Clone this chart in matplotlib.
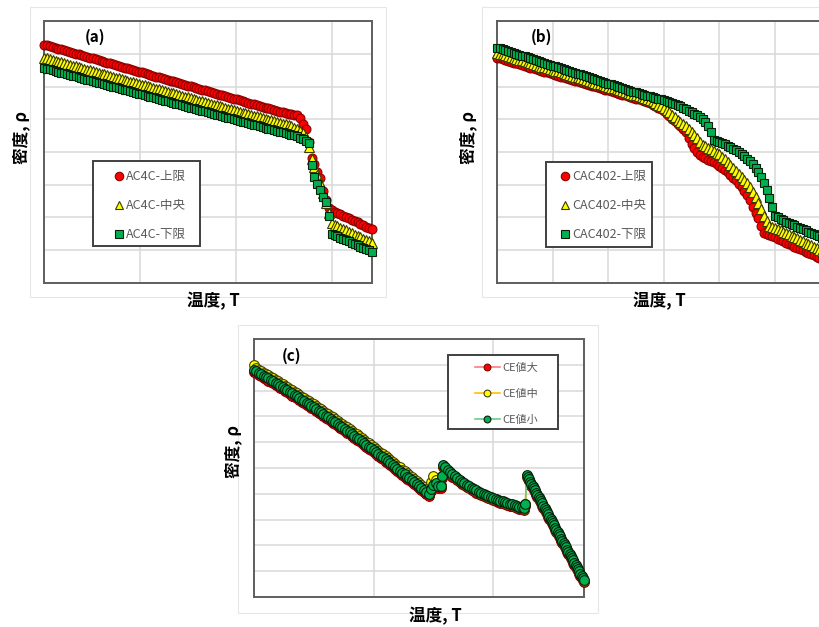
import numpy as np
import matplotlib
matplotlib.use('Agg')
import matplotlib.pyplot as plt
from matplotlib.patches import Rectangle

plt.rcParams['font.family'] = ['Noto Sans CJK JP', 'DejaVu Sans']

# ---------------- data ----------------
# panel (a): AC4C  (temperature sampled every 3 units)
T_a = list(range(0, 343, 3))
rho_a_upper = [
    7.28, 7.255, 7.23, 7.205, 7.18, 7.155, 7.13, 7.105, 7.08, 7.055, 7.03, 7.005, 6.98, 6.955,
    6.93, 6.905, 6.88, 6.855, 6.83, 6.805, 6.78, 6.755, 6.73, 6.705, 6.68, 6.655, 6.63, 6.605,
    6.58, 6.555, 6.53, 6.505, 6.48, 6.455, 6.43, 6.405, 6.38, 6.355, 6.33, 6.305, 6.28, 6.255,
    6.23, 6.205, 6.18, 6.155, 6.13, 6.105, 6.08, 6.055, 6.03, 6.005, 5.98, 5.955, 5.93, 5.905,
    5.88, 5.855, 5.83, 5.805, 5.78, 5.755, 5.73, 5.705, 5.68, 5.655, 5.63, 5.605, 5.58, 5.555,
    5.53, 5.505, 5.48, 5.455, 5.43, 5.405, 5.38, 5.355, 5.33, 5.305, 5.28, 5.255, 5.23,
    5.21, 5.19, 5.175, 5.16, 5.145, 5.13,
    5.05, 4.85, 4.70, 4.30, 3.82, 3.62, 3.40, 3.20, 2.80, 2.52, 2.28, 2.22,
    2.18, 2.14, 2.10, 2.06, 2.01, 1.97, 1.93, 1.89, 1.85, 1.81, 1.77, 1.72, 1.68, 1.64]
rho_a_mid = [
    6.880, 6.856, 6.831, 6.807, 6.783, 6.759, 6.734, 6.710, 6.686, 6.662, 6.637, 6.613, 6.589,
    6.564, 6.540, 6.516, 6.492, 6.467, 6.443, 6.419, 6.395, 6.370, 6.346, 6.322, 6.298, 6.273,
    6.249, 6.225, 6.200, 6.176, 6.152, 6.128, 6.103, 6.079, 6.055, 6.031, 6.006, 5.982, 5.958,
    5.934, 5.909, 5.885, 5.861, 5.836, 5.812, 5.788, 5.764, 5.739, 5.715, 5.691, 5.667, 5.642,
    5.618, 5.594, 5.569, 5.545, 5.521, 5.497, 5.472, 5.448, 5.424, 5.400, 5.375, 5.351, 5.327,
    5.302, 5.278, 5.254, 5.230, 5.205, 5.181, 5.157, 5.133, 5.108, 5.084, 5.060, 5.035, 5.011,
    4.987, 4.963, 4.938, 4.914, 4.890,
    4.865, 4.84, 4.81, 4.78, 4.74, 4.70,
    4.64, 4.58, 4.45, 4.15, 3.80, 3.55, 3.30, 3.05, 2.75, 2.45, 2.15, 1.82,
    1.78, 1.74, 1.69, 1.65, 1.61, 1.57, 1.52, 1.48, 1.44, 1.40, 1.35, 1.31, 1.27, 1.23]
rho_a_lower = [
    6.570, 6.546, 6.522, 6.499, 6.475, 6.451, 6.427, 6.403, 6.380, 6.356, 6.332, 6.308, 6.285,
    6.261, 6.237, 6.213, 6.189, 6.166, 6.142, 6.118, 6.094, 6.070, 6.047, 6.023, 5.999, 5.975,
    5.951, 5.928, 5.904, 5.880, 5.856, 5.833, 5.809, 5.785, 5.761, 5.737, 5.714, 5.690, 5.666,
    5.642, 5.618, 5.595, 5.571, 5.547, 5.523, 5.499, 5.476, 5.452, 5.428, 5.404, 5.381, 5.357,
    5.333, 5.309, 5.285, 5.262, 5.238, 5.214, 5.190, 5.166, 5.143, 5.119, 5.095, 5.071, 5.047,
    5.024, 5.000, 4.976, 4.952, 4.928, 4.905, 4.881, 4.857, 4.833, 4.810, 4.786, 4.762, 4.738,
    4.714, 4.691, 4.667, 4.643, 4.619,
    4.60, 4.58, 4.555, 4.53, 4.505, 4.48,
    4.43, 4.40, 4.35, 4.28, 3.60, 3.25, 3.02, 2.84, 2.63, 2.47, 2.05, 1.50,
    1.46, 1.42, 1.38, 1.35, 1.31, 1.27, 1.23, 1.19, 1.15, 1.11, 1.08, 1.04, 1.00, 0.96]
labels_a = ['AC4C-上限', 'AC4C-中央', 'AC4C-下限']

# panel (b): CAC402  (temperature sampled every 5 units)
T_b = list(range(0, 591, 5))
rho_b_upper = [
    6.88, 6.855, 6.83, 6.805, 6.78, 6.755, 6.73, 6.705, 6.68, 6.655, 6.63, 6.605, 6.58, 6.555,
    6.53, 6.505, 6.48, 6.455, 6.43, 6.405, 6.38, 6.355, 6.33, 6.305, 6.28, 6.255, 6.23, 6.205,
    6.18, 6.155, 6.13, 6.105, 6.08, 6.055, 6.03, 6.005, 5.98, 5.955, 5.93, 5.905, 5.88, 5.855,
    5.83, 5.805, 5.78, 5.755, 5.73, 5.705, 5.68, 5.655, 5.63, 5.605, 5.58, 5.55, 5.52, 5.49,
    5.45, 5.40, 5.35, 5.30, 5.24, 5.17, 5.10, 5.02, 4.94, 4.86, 4.78, 4.70, 4.62, 4.44, 4.25,
    4.12, 4.00, 3.92, 3.86, 3.81, 3.77, 3.73, 3.69, 3.64, 3.58, 3.52, 3.45, 3.38, 3.30, 3.22,
    3.13, 3.03, 2.92, 2.80, 2.68, 2.52, 2.33, 2.15, 1.97, 1.75, 1.52, 1.49, 1.46, 1.42, 1.39,
    1.35, 1.31, 1.27, 1.23, 1.19, 1.15, 1.11, 1.07, 1.04, 1.00, 0.96, 0.92, 0.88, 0.84, 0.80,
    0.76, 0.72, 0.68]
rho_b_mid = [
    7.03, 7.005, 6.98, 6.955, 6.93, 6.90, 6.87, 6.845, 6.82, 6.795, 6.77, 6.745, 6.72, 6.695,
    6.67, 6.64, 6.61, 6.585, 6.56, 6.535, 6.51, 6.485, 6.46, 6.43, 6.40, 6.375, 6.35, 6.325,
    6.30, 6.275, 6.25, 6.225, 6.20, 6.17, 6.14, 6.115, 6.09, 6.065, 6.04, 6.015, 5.99, 5.965,
    5.94, 5.91, 5.88, 5.855, 5.83, 5.805, 5.78, 5.755, 5.73, 5.705, 5.68, 5.65, 5.62, 5.59,
    5.55, 5.50, 5.45, 5.40, 5.35, 5.29, 5.22, 5.14, 5.06, 4.99, 4.92, 4.85, 4.78, 4.70, 4.62,
    4.52, 4.42, 4.32, 4.22, 4.17, 4.12, 4.08, 4.03, 3.98, 3.93, 3.86, 3.78, 3.69, 3.60, 3.50,
    3.41, 3.33, 3.24, 3.15, 3.05, 2.92, 2.78, 2.62, 2.45, 2.25, 2.05, 1.88, 1.74, 1.70, 1.67,
    1.64, 1.61, 1.57, 1.53, 1.49, 1.44, 1.40, 1.36, 1.32, 1.27, 1.23, 1.19, 1.15, 1.10, 1.06,
    1.02, 0.98, 0.93]
rho_b_lower = [
    7.19, 7.165, 7.14, 7.11, 7.08, 7.055, 7.03, 7.00, 6.97, 6.945, 6.92, 6.89, 6.86, 6.835,
    6.81, 6.78, 6.75, 6.725, 6.70, 6.67, 6.64, 6.615, 6.59, 6.56, 6.53, 6.505, 6.48, 6.45,
    6.42, 6.395, 6.37, 6.34, 6.31, 6.285, 6.26, 6.23, 6.20, 6.175, 6.15, 6.12, 6.09, 6.065,
    6.04, 6.01, 5.98, 5.955, 5.93, 5.90, 5.87, 5.845, 5.82, 5.795, 5.77, 5.745, 5.72, 5.70,
    5.68, 5.655, 5.63, 5.61, 5.59, 5.565, 5.54, 5.51, 5.48, 5.44, 5.40, 5.355, 5.31, 5.265,
    5.22, 5.175, 5.13, 5.07, 5.01, 4.92, 4.80, 4.60, 4.37, 4.34, 4.31, 4.27, 4.23, 4.185, 4.14,
    4.095, 4.05, 4.00, 3.95, 3.88, 3.80, 3.71, 3.62, 3.51, 3.40, 3.23, 3.05, 2.83, 2.60, 2.33,
    2.05, 2.00, 1.95, 1.91, 1.87, 1.835, 1.80, 1.76, 1.72, 1.685, 1.65, 1.61, 1.57, 1.535,
    1.50, 1.46, 1.42, 1.385, 1.35]
labels_b = ['CAC402-上限', 'CAC402-中央', 'CAC402-下限']

# panel (c): CE value
T_c = (list(range(0, 145, 2)) + [146, 148, 150, 152, 154, 156, 157]
       + list(range(158, 227, 2)) + [227] + list(range(228, 277)))
rho_c_small = [
    8.80, 8.75, 8.69, 8.64, 8.58, 8.53, 8.47, 8.41, 8.36, 8.30, 8.24, 8.19, 8.13, 8.07, 8.01,
    7.95, 7.89, 7.84, 7.78, 7.72, 7.65, 7.59, 7.53, 7.47, 7.41, 7.35, 7.29, 7.22, 7.16, 7.10,
    7.03, 6.97, 6.90, 6.84, 6.77, 6.71, 6.64, 6.58, 6.51, 6.45, 6.38, 6.31, 6.24, 6.18, 6.11,
    6.04, 5.97, 5.90, 5.83, 5.76, 5.69, 5.62, 5.55, 5.48, 5.41, 5.33, 5.26, 5.19, 5.12, 5.04,
    4.97, 4.90, 4.82, 4.75, 4.67, 4.60, 4.52, 4.45, 4.37, 4.29, 4.22, 4.14, 4.06,
    4.00, 4.18, 4.35, 4.42, 4.32, 4.30, 4.70,
    5.12, 5.02, 4.92, 4.835, 4.75, 4.675, 4.60, 4.535, 4.47, 4.41, 4.35, 4.295, 4.24, 4.185,
    4.13, 4.085, 4.04, 4.00, 3.96, 3.92, 3.88, 3.845, 3.81, 3.775, 3.74, 3.71, 3.68, 3.65,
    3.62, 3.59, 3.56, 3.53, 3.50, 3.475, 3.45,
    3.62,
    4.73, 4.645, 4.56, 4.475, 4.39, 4.305, 4.22, 4.135, 4.05, 3.965, 3.88, 3.795, 3.71, 3.625,
    3.54, 3.455, 3.37, 3.285, 3.20, 3.115, 3.03, 2.945, 2.86, 2.775, 2.69, 2.605, 2.52, 2.435,
    2.35, 2.265, 2.18, 2.095, 2.01, 1.925, 1.84, 1.755, 1.67, 1.585, 1.50, 1.415, 1.33, 1.245,
    1.16, 1.075, 0.99, 0.905, 0.82, 0.735, 0.65]
rho_c_mid = [
    8.99, 8.87, 8.81, 8.76, 8.70, 8.65, 8.59, 8.53, 8.48, 8.42, 8.36, 8.31, 8.25, 8.19, 8.13,
    8.07, 8.01, 7.96, 7.90, 7.84, 7.77, 7.71, 7.65, 7.59, 7.53, 7.47, 7.41, 7.34, 7.28, 7.22,
    7.15, 7.09, 7.02, 6.96, 6.89, 6.83, 6.76, 6.70, 6.63, 6.57, 6.50, 6.43, 6.36, 6.30, 6.23,
    6.16, 6.09, 6.02, 5.95, 5.88, 5.81, 5.74, 5.67, 5.60, 5.53, 5.45, 5.38, 5.31, 5.24, 5.16,
    5.09, 5.02, 4.94, 4.87, 4.79, 4.72, 4.64, 4.57, 4.49, 4.41, 4.34, 4.26, 4.18,
    4.10, 4.45, 4.70, 4.55, 4.38, 4.35, 4.70,
    5.09, 4.99, 4.89, 4.805, 4.72, 4.645, 4.57, 4.505, 4.44, 4.38, 4.32, 4.265, 4.21, 4.155,
    4.10, 4.055, 4.01, 3.97, 3.93, 3.89, 3.85, 3.815, 3.78, 3.745, 3.71, 3.68, 3.65, 3.62,
    3.59, 3.56, 3.53, 3.50, 3.47, 3.445, 3.42,
    3.60,
    4.70, 4.615, 4.53, 4.445, 4.36, 4.275, 4.19, 4.105, 4.02, 3.935, 3.85, 3.765, 3.68, 3.595,
    3.51, 3.425, 3.34, 3.255, 3.17, 3.085, 3.00, 2.915, 2.83, 2.745, 2.66, 2.575, 2.49, 2.405,
    2.32, 2.235, 2.15, 2.065, 1.98, 1.895, 1.81, 1.725, 1.64, 1.555, 1.47, 1.385, 1.30, 1.215,
    1.13, 1.045, 0.96, 0.875, 0.79, 0.705, 0.62]
rho_c_large = [
    8.72, 8.67, 8.61, 8.56, 8.50, 8.45, 8.39, 8.33, 8.28, 8.22, 8.16, 8.11, 8.05, 7.99, 7.93,
    7.87, 7.81, 7.76, 7.70, 7.64, 7.57, 7.51, 7.45, 7.39, 7.33, 7.27, 7.21, 7.14, 7.08, 7.02,
    6.95, 6.89, 6.82, 6.76, 6.69, 6.63, 6.56, 6.50, 6.43, 6.37, 6.30, 6.23, 6.16, 6.10, 6.03,
    5.96, 5.89, 5.82, 5.75, 5.68, 5.61, 5.54, 5.47, 5.40, 5.33, 5.25, 5.18, 5.11, 5.04, 4.96,
    4.89, 4.82, 4.74, 4.67, 4.59, 4.52, 4.44, 4.37, 4.29, 4.21, 4.14, 4.06, 3.98,
    3.92, 4.10, 4.27, 4.34, 4.24, 4.22, 4.60,
    5.04, 4.94, 4.84, 4.755, 4.67, 4.595, 4.52, 4.455, 4.39, 4.33, 4.27, 4.215, 4.16, 4.105,
    4.05, 4.005, 3.96, 3.92, 3.88, 3.84, 3.80, 3.765, 3.73, 3.695, 3.66, 3.63, 3.60, 3.57,
    3.54, 3.51, 3.48, 3.45, 3.42, 3.395, 3.37,
    3.54,
    4.65, 4.565, 4.48, 4.395, 4.31, 4.225, 4.14, 4.055, 3.97, 3.885, 3.80, 3.715, 3.63, 3.545,
    3.46, 3.375, 3.29, 3.205, 3.12, 3.035, 2.95, 2.865, 2.78, 2.695, 2.61, 2.525, 2.44, 2.355,
    2.27, 2.185, 2.10, 2.015, 1.93, 1.845, 1.76, 1.675, 1.59, 1.505, 1.42, 1.335, 1.25, 1.165,
    1.08, 0.995, 0.91, 0.825, 0.74, 0.655, 0.57]
labels_c = ['CE値大', 'CE値中', 'CE値小']

xlabel = '温度, T'
ylabel = '密度, ρ'

# ---------------- figure ----------------
W, H = 820, 627
fig = plt.figure(figsize=(8.2, 6.27), dpi=100)
fig.patch.set_facecolor('white')


def fx(px):
    return px / W


def fy(py):
    return 1 - py / H


def add_axes(l, t, r, b):
    return fig.add_axes([fx(l), fy(b), (r - l) / W, (b - t) / H])


def outer_box(l, t, r, b):
    fig.add_artist(Rectangle((fx(l), fy(b)), (r - l) / W, (b - t) / H,
                             transform=fig.transFigure, fill=False,
                             ec='#E6E6E6', lw=0.8, zorder=0))


def style(ax, xmax, ymax, xstep, ystep):
    ax.set_xlim(0, xmax)
    ax.set_ylim(0, ymax)
    ax.set_xticks(np.arange(0, xmax + 1e-9, xstep))
    ax.set_yticks(np.arange(0, ymax + 1e-9, ystep))
    ax.tick_params(length=0, labelbottom=False, labelleft=False)
    ax.grid(True, color='#D9D9D9', lw=1.1)
    ax.set_axisbelow(True)
    for s in ax.spines.values():
        s.set_color('#5E5E5E')
        s.set_linewidth(1.4)


def legend_box(ax, l, t, r, b):
    ax.add_patch(Rectangle((fx(l), fy(b)), (r - l) / W, (b - t) / H,
                           transform=fig.transFigure, fc='white', ec='#404040',
                           lw=1.4, zorder=4, clip_on=False))


RED, RED_E = '#FF0000', '#8A0000'
YEL, YEL_E = '#FFFF00', '#3A3A00'
GRN, GRN_E = '#00B050', '#08200C'

# outer chart-area frames
outer_box(30, 7, 386, 297)
outer_box(482, 7, 840, 297)
outer_box(238, 325, 598, 613)

# ---- panel (a)
axa = add_axes(44, 21, 372, 283)
style(axa, 342, 8, 100, 1)
ha = []
ha.append(axa.plot(T_a, rho_a_upper, ls='none', marker='o', ms=6.4, mfc=RED, mec=RED_E,
                   mew=0.8, clip_on=False, zorder=3)[0])
ha.append(axa.plot(T_a, rho_a_mid, ls='none', marker='^', ms=6.6, mfc=YEL, mec=YEL_E,
                   mew=0.8, clip_on=False, zorder=3)[0])
ha.append(axa.plot(T_a, rho_a_lower, ls='none', marker='s', ms=6.0, mfc=GRN, mec=GRN_E,
                   mew=0.8, clip_on=False, zorder=3)[0])
legend_box(axa, 93, 161, 200, 246)
axa.legend(ha, labels_a, loc='upper left', bbox_to_anchor=(fx(113), fy(170)),
           bbox_transform=fig.transFigure, frameon=False, fontsize=9,
           labelcolor='#595959', handlelength=0.9, handletextpad=0.15,
           labelspacing=1.3, borderpad=0, borderaxespad=0, numpoints=1,
           markerscale=0.95)
fig.text(fx(95), fy(37), '(a)', fontsize=11, fontweight='bold', ha='center', va='center')
fig.text(fx(213), fy(301), xlabel, fontsize=12, fontweight='bold', ha='center', va='center')
fig.text(fx(21), fy(137), ylabel, fontsize=12, fontweight='bold', ha='center', va='center',
         rotation=90)

# ---- panel (b)
axb = add_axes(497, 21, 825, 283)
style(axb, 590, 8, 100, 1)
hb = []
hb.append(axb.plot(T_b, rho_b_upper, ls='none', marker='o', ms=6.4, mfc=RED, mec=RED_E,
                   mew=0.8, clip_on=False, zorder=3)[0])
hb.append(axb.plot(T_b, rho_b_mid, ls='none', marker='^', ms=6.6, mfc=YEL, mec=YEL_E,
                   mew=0.8, clip_on=False, zorder=3)[0])
hb.append(axb.plot(T_b, rho_b_lower, ls='none', marker='s', ms=6.0, mfc=GRN, mec=GRN_E,
                   mew=0.8, clip_on=False, zorder=3)[0])
legend_box(axb, 546, 162, 652, 247)
axb.legend(hb, labels_b, loc='upper left', bbox_to_anchor=(fx(559), fy(170)),
           bbox_transform=fig.transFigure, frameon=False, fontsize=9,
           labelcolor='#595959', handlelength=0.9, handletextpad=0.15,
           labelspacing=1.3, borderpad=0, borderaxespad=0, numpoints=1,
           markerscale=0.95)
fig.text(fx(541), fy(37), '(b)', fontsize=11, fontweight='bold', ha='center', va='center')
fig.text(fx(659), fy(301), xlabel, fontsize=12, fontweight='bold', ha='center', va='center')
fig.text(fx(468), fy(137), ylabel, fontsize=12, fontweight='bold', ha='center', va='center',
         rotation=90)

# ---- panel (c)
axc = add_axes(254, 339, 584, 597)
style(axc, 276, 10, 100, 1)
hc = []
hc.append(axc.plot(T_c, rho_c_large, ls='-', lw=1.2, color='#FF7C80', marker='o', ms=7.0,
                   mfc=RED, mec=RED_E, mew=0.8, clip_on=False, zorder=3)[0])
hc.append(axc.plot(T_c, rho_c_mid, ls='-', lw=1.2, color='#FFC000', marker='o', ms=7.0,
                   mfc=YEL, mec='#4A4200', mew=0.8, clip_on=False, zorder=3)[0])
hc.append(axc.plot(T_c, rho_c_small, ls='-', lw=1.2, color='#66D08A', marker='o', ms=7.0,
                   mfc=GRN, mec=GRN_E, mew=0.8, clip_on=False, zorder=3)[0])
legend_box(axc, 448, 355, 558, 429)
axc.legend(hc, labels_c, loc='upper left', bbox_to_anchor=(fx(475), fy(363)),
           bbox_transform=fig.transFigure, frameon=False, fontsize=8,
           labelcolor='#595959', handlelength=2.25, handletextpad=0.2,
           labelspacing=1.45, borderpad=0, borderaxespad=0, numpoints=1,
           markerscale=0.7)
fig.text(fx(292), fy(356), '(c)', fontsize=11, fontweight='bold', ha='center', va='center')
fig.text(fx(435), fy(616), xlabel, fontsize=12, fontweight='bold', ha='center', va='center')
fig.text(fx(233), fy(452), ylabel, fontsize=12, fontweight='bold', ha='center', va='center',
         rotation=90)

fig.savefig('out.png', dpi=100, facecolor='white')
